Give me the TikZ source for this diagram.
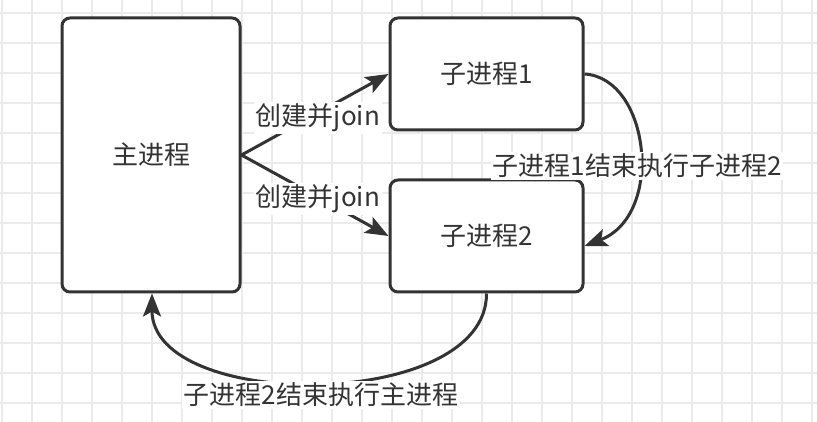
\documentclass[tikz,border=0pt]{standalone}
\usepackage{fontspec}
\setmainfont{Noto Sans CJK SC}
\usetikzlibrary{arrows.meta}
\definecolor{ink}{HTML}{333333}
\definecolor{gridc}{HTML}{EBEBEB}
\tikzset{
  proc/.style={draw=ink, line width=3pt, rounded corners=8pt, fill=white, text=ink, font=\fontsize{26}{31}\selectfont},
  conn/.style={draw=ink, line width=3pt, -{Stealth[length=23pt,width=18pt,inset=5pt]}},
  lbl/.style={fill=white, text=ink, inner sep=2pt, font=\fontsize{26}{31}\selectfont}
}
\begin{document}
\begin{tikzpicture}[x=1pt,y=-1pt]
\useasboundingbox (0,0) rectangle (817,422);
\fill[white] (0,0) rectangle (817,422);
\foreach \i in {0,...,27} {\draw[gridc, line width=1.5pt] ({2+30*\i},0) -- ({2+30*\i},422);}
\foreach \j in {0,...,13} {\draw[gridc, line width=1.5pt] (0,{13+30*\j}) -- (817,{13+30*\j});}
\node[proc, minimum width=178pt, minimum height=274pt] (main) at (151,155) {主进程};
\node[proc, minimum width=193pt, minimum height=112pt] (s1) at (486.5,74) {子进程1};
\node[proc, minimum width=193pt, minimum height=112pt] (s2) at (486.5,236) {子进程2};
\coordinate (mr) at (main.east);
\draw[conn] (mr) -- (s1.west) node[lbl, pos=0.52, yshift=-5pt] {创建并join};
\draw[conn] (mr) -- (s2.west) node[lbl, pos=0.52, yshift=-2pt] {创建并join};
\draw[conn] (s1.east) .. controls (650,78) and (665,215) .. ([yshift=-10pt]s2.east);
\node[lbl] (l3) at (637,166) {子进程1结束执行子进程2};
\draw[conn] (s2.south) .. controls (487,412) and (152,412) .. ([xshift=1pt]main.south);
\node[lbl] (l4) at (321,395) {子进程2结束执行主进程};
\end{tikzpicture}
\end{document}
